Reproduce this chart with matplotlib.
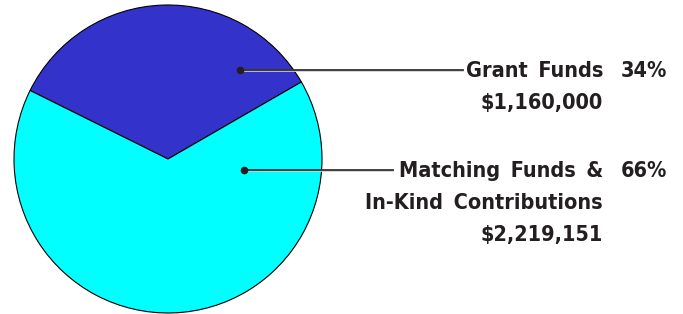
import matplotlib
matplotlib.use("Agg")
import matplotlib.pyplot as plt

# data
labels = ["Grant Funds", "Matching Funds &\nIn-Kind Contributions"]
amounts = ["$1,160,000", "$2,219,151"]
values = [1160000, 2219151]
pcts = ["34%", "66%"]
colors = ["#3333cc", "#00ffff"]

W, H = 683, 314
fig = plt.figure(figsize=(W / 100, H / 100), dpi=100)
ax = fig.add_axes([0, 0, 1, 1])

cx, cy, r = 168, H - 159, 154
ax.pie(values, colors=colors, startangle=30, counterclock=True,
       center=(cx, cy), radius=r,
       wedgeprops=dict(edgecolor="black", linewidth=0.8))
ax.set_xlim(0, W)
ax.set_ylim(0, H)
ax.set_aspect("equal")
ax.axis("off")

font = dict(family="DejaVu Sans", stretch="condensed", weight="bold",
            color="#231f20", fontsize=15.5)

# callout positions (pixels from top-left)
dots = [(240, 70), (244, 170)]
line_end = [463, 393]
first_base = [77, 177]
line_gap = 32
name_right = 603
pct_right = 667

for i in range(len(values)):
    dx, dy = dots[i]
    ax.plot([dx, line_end[i]], [H - dy - 1.2, H - dy - 1.2], color="#cfcfcf", lw=1.2)
    ax.plot([dx, line_end[i]], [H - dy, H - dy], color="#333333", lw=1.3)
    ax.plot(dx, H - dy, "o", color="#231f20", ms=4.5)
    rows = labels[i].split("\n") + [amounts[i]]
    for j, row in enumerate(rows):
        y = H - (first_base[i] + j * line_gap)
        ax.text(name_right, y, row.replace(" ", " \u2009"), ha="right", va="baseline", **font)
    ax.text(pct_right, H - first_base[i], pcts[i], ha="right", va="baseline", **font)

fig.savefig("out.png", dpi=100)
